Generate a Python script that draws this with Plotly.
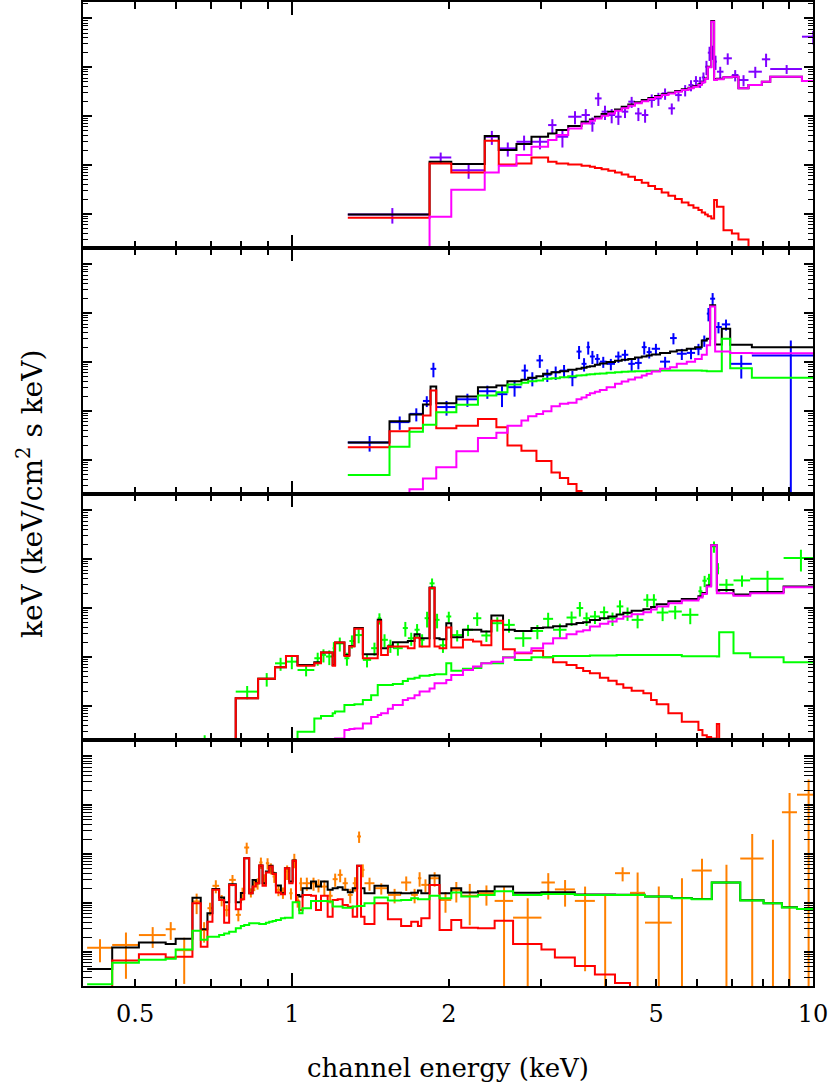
import plotly.graph_objects as go

# ---------------- Panel 1 (top) ----------------
p1_edges = [1.28, 1.837, 2.022, 2.344, 2.494, 2.697, 2.882, 3.102, 3.219, 3.390, 3.596, 3.731, 3.814,
            3.929, 4.047, 4.169, 4.294, 4.421, 4.553, 4.692, 4.831, 4.976, 5.124, 5.278, 5.437, 5.600,
            5.768, 5.896, 6.027, 6.117, 6.208, 6.282, 6.379, 6.46, 6.54, 6.733, 6.987, 7.194, 7.52,
            7.977, 8.278, 9.524, 10.5]
p1_data = [9.7e-5, 1.42e-3, 7.8e-4, 3.77e-3, 2.18e-3, 2.98e-3, 2.98e-3, 6.54e-3, 3.77e-3, 9.69e-3,
           1.05e-2, 7.08e-3, 2.30e-2, 1.23e-2, 1.05e-2, 9.69e-3, 1.23e-2, 1.97e-2, 1.13e-2, 1.05e-2,
           2.13e-2, 2.30e-2, 2.91e-2, 1.44e-2, 2.69e-2, 3.41e-2, 4.31e-2, 5.21e-2, 5.05e-2, 6.19e-2,
           0.102, 0.198, 0.208, 0.130, 8.09e-2, 0.152, 6.92e-2, 5.46e-2, 8.09e-2, 0.145, 9.17e-2, 0.421]
p1_err = [3.4e-5, 3.7e-4, 2.6e-4, 1.2e-3, 7e-4, 1.0e-3, 9e-4, 2.1e-3, 1.5e-3, 2.9e-3,
          3.4e-3, 2.3e-3, 6.9e-3, 4e-3, 3.4e-3, 3.1e-3, 3.2e-3, 5e-3, 3.4e-3, 3.2e-3,
          6.4e-3, 6.9e-3, 7.6e-3, 3.7e-3, 7e-3, 8.9e-3, 1.1e-2, 1.35e-2, 1.3e-2, 1.6e-2,
          0.033, 0.064, 0.067, 0.042, 0.021, 0.04, 0.018, 0.014, 0.021, 0.044, 0.019, 0.13]
p1_total = [9.7e-5, 1.16e-3, 1.04e-3, 3.89e-3, 2.01e-3, 2.67e-3, 3.77e-3, 4.42e-3, 5.17e-3, 6.24e-3,
            7.66e-3, 8.55e-3, 9.69e-3, 1.10e-2, 1.23e-2, 1.37e-2, 1.55e-2, 1.73e-2, 1.91e-2, 2.13e-2,
            2.34e-2, 2.57e-2, 2.78e-2, 3.01e-2, 3.25e-2, 3.52e-2, 3.80e-2, 4.11e-2, 4.45e-2, 5.05e-2,
            5.90e-2, 0.102, 0.882, 5.64e-2, 5.81e-2, 6.19e-2, 6.39e-2, 3.69e-2, 4.31e-2, 5.05e-2,
            6.39e-2, 5.21e-2]
p1_red = [8.28e-5, 1.07e-3, 7.0e-4, 3.13e-3, 1.02e-3, 1.07e-3, 1.42e-3, 1.16e-3, 1.07e-3, 1.02e-3,
          9.6e-4, 9.2e-4, 8.7e-4, 8.2e-4, 7.6e-4, 7.0e-4, 6.4e-4, 5.7e-4, 4.9e-4, 4.3e-4,
          3.7e-4, 3.2e-4, 2.73e-4, 2.34e-4, 2.0e-4, 1.71e-4, 1.50e-4, 1.33e-4, 1.19e-4, 1.06e-4,
          9.7e-5, 8.95e-5, 8.0e-5, 1.91e-4, 1.39e-4, 4.63e-5, 3.96e-5, 2.98e-5, 5e-6, 5e-6, 5e-6, 5e-6]
p1_mag = [5e-6, 8.68e-5, 3.1e-4, 7.0e-4, 9.6e-4, 1.59e-3, 2.36e-3, 3.23e-3, 4.08e-3, 5.59e-3,
          7.08e-3, 8.02e-3, 8.96e-3, 1.02e-2, 1.13e-2, 1.29e-2, 1.44e-2, 1.63e-2, 1.82e-2, 2.00e-2,
          2.23e-2, 2.45e-2, 2.69e-2, 2.91e-2, 3.15e-2, 3.41e-2, 3.69e-2, 3.99e-2, 4.31e-2, 4.89e-2,
          5.73e-2, 9.93e-2, 0.855, 5.46e-2, 5.64e-2, 6.19e-2, 6.39e-2, 3.69e-2, 4.31e-2, 5.05e-2,
          6.39e-2, 5.21e-2]

# ---------------- Panel 2 ----------------
p2_edges = [1.28, 1.539, 1.681, 1.784, 1.845, 1.892, 2.068, 2.275, 2.468, 2.592, 2.757, 2.840, 2.946,
            3.034, 3.148, 3.267, 3.390, 3.517, 3.596, 3.676, 3.731, 3.814, 3.899, 4.017, 4.169, 4.294,
            4.421, 4.553, 4.692, 4.795, 4.903, 5.087, 5.317, 5.477, 5.725, 5.939, 6.117, 6.254, 6.347,
            6.489, 6.683, 6.935, 7.632, 10.5]
p2_data = [2.27e-4, 5.9e-4, 8.7e-4, 1.6e-3, 7.27e-3, 1.2e-3, 1.73e-3, 2.53e-3, 2.2e-3, 3.06e-3,
           6.7e-3, 4.68e-3, 1.08e-2, 5.5e-3, 6.2e-3, 6.7e-3, 4.9e-3, 1.64e-2, 9.2e-3, 2.02e-2,
           1.30e-2, 1.16e-2, 1.02e-2, 9.2e-3, 1.30e-2, 1.41e-2, 9.2e-3, 9.6e-3, 2.02e-2, 1.60e-2,
           1.87e-2, 1.02e-2, 3.10e-2, 1.48e-2, 1.54e-2, 1.87e-2, 2.77e-2, 9.8e-2, 0.198, 5.22e-2,
           5.9e-2, 9.2e-3, 1.36e-2]
p2_err = [8e-5, 1.8e-4, 2.6e-4, 4e-4, 2.4e-3, 4e-4, 5.2e-4, 7.6e-4, 1.0e-3, 1.1e-3,
          2.2e-3, 1.5e-3, 3.2e-3, 1.6e-3, 1.9e-3, 2.0e-3, 1.7e-3, 4.9e-3, 2.8e-3, 6e-3,
          3.9e-3, 3e-3, 2.6e-3, 2.4e-3, 3.4e-3, 3.7e-3, 2.8e-3, 2.5e-3, 6e-3, 4.2e-3,
          4.9e-3, 2.6e-3, 8e-3, 3.8e-3, 4e-3, 4.9e-3, 7.2e-3, 0.03, 0.06, 0.0136,
          0.015, 4.6e-3, 0.014]
p2_total = [2.27e-4, 6.13e-4, 8.41e-4, 1.35e-3, 3.16e-3, 1.44e-3, 1.97e-3, 3.06e-3, 3.31e-3, 4.06e-3,
            4.32e-3, 4.75e-3, 5.14e-3, 5.74e-3, 6.21e-3, 6.51e-3, 6.93e-3, 7.27e-3, 7.62e-3, 7.99e-3,
            8.24e-3, 8.79e-3, 9.32e-3, 1.00e-2, 1.06e-2, 1.11e-2, 1.16e-2, 1.24e-2, 1.30e-2, 1.36e-2,
            1.43e-2, 1.54e-2, 1.64e-2, 1.75e-2, 1.87e-2, 2.02e-2, 2.77e-2, 3.00e-2, 0.145, 2.29e-2,
            4.81e-2, 2.25e-2, 2.02e-2]
p2_red = [1.80e-4, 3.82e-4, 4.41e-4, 8.02e-4, 2.61e-3, 4.41e-4, 5.0e-4, 6.85e-4, 4.62e-4, 1.95e-4,
          1.53e-4, 1.53e-4, 9.5e-5, 9.5e-5, 5.5e-5, 4.22e-5, 3.2e-5, 2.3e-5, 5e-6, 5e-6,
          5e-6, 5e-6, 5e-6, 5e-6, 5e-6, 5e-6, 5e-6, 5e-6, 5e-6, 5e-6,
          5e-6, 5e-6, 5e-6, 5e-6, 5e-6, 5e-6, 5e-6, 5e-6, 5e-6, 5e-6,
          5e-6, 5e-6, 5e-6]
p2_green = [4.86e-5, 1.85e-4, 3.76e-4, 5.24e-4, 5.24e-4, 9.4e-4, 1.33e-3, 2.06e-3, 2.41e-3, 3.47e-3,
            3.75e-3, 4.06e-3, 4.19e-3, 4.53e-3, 4.68e-3, 4.9e-3, 5.14e-3, 5.3e-3, 5.38e-3, 5.56e-3,
            5.65e-3, 5.74e-3, 5.83e-3, 6.02e-3, 6.21e-3, 6.31e-3, 6.41e-3, 6.51e-3, 6.51e-3, 6.61e-3,
            6.61e-3, 6.72e-3, 6.72e-3, 6.72e-3, 6.72e-3, 6.72e-3, 6.61e-3, 6.51e-3, 6.51e-3, 6.51e-3,
            3.0e-2, 7.5e-3, 4.75e-3]
p2_mag = [5e-6, 5e-6, 2.5e-5, 4.15e-5, 4.15e-5, 7.0e-5, 1.49e-4, 2.79e-4, 3.57e-4, 5.0e-4,
          6.4e-4, 7.8e-4, 8.7e-4, 9.84e-4, 1.25e-3, 1.4e-3, 1.47e-3, 1.73e-3, 1.89e-3, 2.12e-3,
          2.3e-3, 2.48e-3, 2.69e-3, 3.06e-3, 3.6e-3, 3.99e-3, 4.4e-3, 4.83e-3, 5.3e-3, 5.74e-3,
          6.4e-3, 7.27e-3, 7.87e-3, 9.2e-3, 1.02e-2, 1.16e-2, 1.41e-2, 2.21e-2, 0.137, 1.64e-2,
          1.64e-2, 1.54e-2, 1.51e-2]

# ---------------- Panel 3 ----------------
p3_edges = [0.64, 0.72, 0.780, 0.861, 0.928, 0.974, 1.025, 1.104, 1.137, 1.162, 1.197, 1.210, 1.261,
            1.289, 1.318, 1.368, 1.419, 1.461, 1.483, 1.528, 1.562, 1.632, 1.669, 1.719, 1.758, 1.797,
            1.837, 1.878, 1.920, 1.978, 2.022, 2.129, 2.226, 2.309, 2.414, 2.542, 2.677, 2.882, 3.034,
            3.171, 3.365, 3.517, 3.622, 3.731, 3.899, 4.047, 4.199, 4.325, 4.487, 4.726, 4.889, 5.012,
            5.278, 5.600, 6.027, 6.135, 6.254, 6.375, 6.538, 6.606, 7.038, 7.576, 8.782, 10.18]
p3_data = [1e-7, 1e-7,
           1.95e-4, 3.57e-4, 7.4e-4, 8.0e-4, 5.4e-4, 9.4e-4, 1.1e-3, 1.02e-3, 1.51e-3, 1.89e-3,
           9.4e-4, 2.12e-3, 2.8e-3, 8.7e-4, 1.51e-3, 6.2e-3, 2.24e-3, 1.73e-3, 1.51e-3, 3.9e-3,
           2.41e-3, 3.6e-3, 2.24e-3, 6.2e-3, 3.2e-2, 5.74e-3, 1.73e-3, 6.72e-3, 2.8e-3, 3.6e-3,
           6.2e-3, 2.75e-3, 4.9e-3, 4.53e-3, 2.41e-3, 3.4e-3, 6.02e-3, 3.6e-3, 6.4e-3, 1.0e-2,
           6.2e-3, 6.72e-3, 8.24e-3, 6.2e-3, 1.08e-2, 7.87e-3, 5.74e-3, 1.48e-2, 1.48e-2, 8.1e-3,
           8.5e-3, 7.27e-3, 2.21e-2, 3.62e-2, 3.98e-2, 0.183, 6.6e-2, 3.0e-2, 3.68e-2, 3.98e-2, 0.106]
p3_err = [2.5e-5, 0.0,
          5.9e-5, 1.1e-4, 2.2e-4, 2.4e-4, 1.4e-4, 2.8e-4, 3.3e-4, 3.4e-4, 5e-4, 6e-4,
          2.8e-4, 6.4e-4, 9e-4, 2.6e-4, 4.5e-4, 1.6e-3, 6.7e-4, 5.2e-4, 4.5e-4, 1.3e-3,
          7.2e-4, 1.1e-3, 6.7e-4, 2.2e-3, 8.3e-3, 1.9e-3, 5.2e-4, 1.7e-3, 7.3e-4, 9.4e-4,
          1.9e-3, 7.2e-4, 1.6e-3, 1.4e-3, 8e-4, 1.1e-3, 2e-3, 1.2e-3, 2.1e-3, 3.3e-3,
          1.9e-3, 2e-3, 2.5e-3, 1.9e-3, 3.6e-3, 2.4e-3, 1.9e-3, 4.4e-3, 4.4e-3, 2.7e-3,
          2.6e-3, 2.6e-3, 5.7e-3, 9.4e-3, 1.03e-2, 0.047, 0.017, 9e-3, 9.6e-3, 0.018, 0.05]
p3_total = [5e-6, 5e-6,
            1.42e-4, 3.57e-4, 6.13e-4, 1.05e-3, 6.85e-4, 7.8e-4, 1.23e-3, 1.23e-3, 6.85e-4, 1.97e-3,
            1.10e-3, 1.68e-3, 3.9e-3, 1.13e-3, 1.13e-3, 5.74e-3, 1.51e-3, 1.64e-3, 2.0e-3, 2.0e-3,
            2.12e-3, 2.9e-3, 2.41e-3, 2.41e-3, 2.64e-2, 2.41e-3, 2.3e-3, 4.9e-3, 2.53e-3, 3.6e-3,
            3.6e-3, 3.31e-3, 7.04e-3, 3.6e-3, 3.4e-3, 3.9e-3, 3.99e-3, 4.24e-3, 4.64e-3, 4.95e-3,
            5.1e-3, 5.72e-3, 6.2e-3, 6.7e-3, 7.4e-3, 8.05e-3, 8.8e-3, 9.5e-3, 1.055e-2, 1.2e-2,
            1.38e-2, 1.54e-2, 1.74e-2, 2.04e-2, 2.88e-2, 0.193, 2.29e-2, 2.34e-2, 1.9e-2, 2.12e-2, 2.76e-2]
p3_red = [5e-6, 5e-6,
          1.42e-4, 3.57e-4, 6.13e-4, 1.05e-3, 6.63e-4, 7.41e-4, 1.23e-3, 1.23e-3, 6.63e-4, 1.97e-3,
          1.05e-3, 1.63e-3, 3.75e-3, 9.39e-4, 9.39e-4, 5.3e-3, 1.10e-3, 1.63e-3, 1.63e-3, 1.63e-3,
          1.51e-3, 2.48e-3, 1.63e-3, 1.63e-3, 2.56e-2, 1.63e-3, 1.51e-3, 4.0e-3, 1.55e-3, 2.24e-3,
          2.06e-3, 1.73e-3, 5.47e-3, 1.44e-3, 1.19e-3, 1.33e-3, 9.84e-4, 7.8e-4, 6.85e-4, 5.9e-4,
          5.16e-4, 4.62e-4, 3.76e-4, 3.27e-4, 2.75e-4, 2.34e-4, 2.04e-4, 1.8e-4, 1.31e-4, 1.07e-4,
          7.0e-5, 4.7e-5, 3.2e-5, 2.5e-5, 2.3e-5, 2.14e-5, 4.22e-5, 5e-6, 5e-6, 5e-6, 5e-6]
p3_green = [5e-6, 5e-6,
            5e-6, 5e-6, 5e-6, 5e-6, 2.94e-5, 5.5e-5, 6.2e-5, 6.2e-5, 7.0e-5, 7.6e-5,
            1.04e-4, 1.04e-4, 1.08e-4, 1.31e-4, 1.65e-4, 2.66e-4, 2.66e-4, 2.66e-4, 2.79e-4, 3.2e-4,
            3.57e-4, 3.76e-4, 4.1e-4, 4.1e-4, 4.27e-4, 4.41e-4, 4.41e-4, 7.4e-4, 5.24e-4, 5.7e-4,
            5.9e-4, 7.4e-4, 7.4e-4, 9.84e-4, 8.7e-4, 9.84e-4, 9.84e-4, 1.05e-3, 1.05e-3, 1.05e-3,
            1.05e-3, 1.07e-3, 1.07e-3, 1.07e-3, 1.10e-3, 1.10e-3, 1.10e-3, 1.10e-3, 1.10e-3, 1.09e-3,
            1.09e-3, 1.03e-3, 1.03e-3, 1.03e-3, 1.03e-3, 1.03e-3, 1.02e-3, 3.2e-3, 1.19e-3, 9.84e-4, 7.8e-4]
p3_mag = [5e-6, 5e-6,
          5e-6, 5e-6, 5e-6, 5e-6, 5e-6, 5e-6, 5e-6, 5e-6, 5e-6, 2.14e-5,
          3.2e-5, 3.35e-5, 3.45e-5, 4.35e-5, 5.9e-5, 6.5e-5, 7.0e-5, 8.7e-5, 1.04e-4, 1.31e-4,
          1.42e-4, 1.65e-4, 1.95e-4, 1.95e-4, 2.27e-4, 2.88e-4, 2.88e-4, 3.37e-4, 4.27e-4, 5.4e-4,
          6.4e-4, 7.4e-4, 8.0e-4, 9.7e-4, 1.23e-3, 1.51e-3, 1.89e-3, 2.41e-3, 2.9e-3, 3.31e-3,
          3.53e-3, 4.19e-3, 4.75e-3, 5.3e-3, 6.02e-3, 6.72e-3, 7.5e-3, 8.24e-3, 9.32e-3, 1.08e-2,
          1.26e-2, 1.43e-2, 1.64e-2, 1.93e-2, 2.77e-2, 0.192, 2.02e-2, 2.02e-2, 1.78e-2, 2.02e-2, 2.68e-2]

# ---------------- Panel 4 (bottom) ----------------
p4_edges = [0.4045, 0.4519, 0.5085, 0.5724, 0.5982, 0.6442, 0.6683, 0.6884, 0.7038, 0.7249, 0.7411,
            0.7577, 0.7803, 0.7979, 0.8098, 0.8278, 0.8403, 0.8528, 0.8654, 0.8782, 0.8913, 0.9045,
            0.9180, 0.9316, 0.9524, 0.9695, 0.9883, 1.003, 1.018, 1.033, 1.048, 1.088, 1.112, 1.137,
            1.171, 1.197, 1.224, 1.251, 1.280, 1.308, 1.334, 1.357, 1.378, 1.440, 1.528, 1.620, 1.694,
            1.745, 1.771, 1.837, 1.920, 2.022, 2.113, 2.275, 2.449, 2.657, 3.012, 3.196, 3.491, 3.814,
            4.169, 4.454, 4.760, 5.357, 5.852, 6.394, 7.250, 8.039, 8.717, 9.316, 10.3]
p4_data = [1.21e-4, 1.38e-4, 2.2e-4, 2.9e-4, 1.08e-4, 1.07e-3, 2.79e-4, 7.8e-4, 2.24e-3, 1.15e-3,
           7.18e-4, 2.96e-3, 5.7e-4, 1.58e-3, 1.36e-2, 1.64e-3, 2.34e-3, 2.53e-3, 6.72e-3, 3.06e-3,
           6.51e-3, 5.14e-3, 3.47e-3, 1.85e-3, 1.64e-3, 4.4e-3, 1.58e-3, 7.62e-3, 1.15e-3, 2.53e-3,
           2.53e-3, 2.53e-3, 2.34e-3, 2.16e-3, 1.4e-3, 3.06e-3, 3.75e-3, 2.53e-3, 1.46e-3, 2.53e-3,
           2.29e-2, 4.75e-3, 2.53e-3, 2.0e-3, 1.46e-3, 2.62e-3, 1.46e-3, 3.2e-3, 2.34e-3, 3.2e-3,
           1.15e-3, 1.85e-3, 1.4e-3,
           1.58e-3, 1.1e-3, 5.0e-4, 2.62e-3, 1.89e-3, 1.1e-3, 1e-6, 4.06e-3, 1.61e-3, 3.95e-4,
           1e-6, 4.6e-3, 1e-6, 8.1e-3, 1e-6, 7.17e-2, 0.164]
p4_err = [6e-5, 1.1e-4, 1.0e-4, 1.15e-4, 8.6e-5, 4.8e-4, 1.25e-4, 2.3e-4, 6.7e-4, 3e-4,
          1.9e-4, 7.7e-4, 1.5e-4, 4.7e-4, 3.5e-3, 3.5e-4, 6e-4, 6.6e-4, 1.75e-3, 8e-4,
          1.7e-3, 1.3e-3, 9e-4, 4.8e-4, 4.3e-4, 1.45e-3, 4.1e-4, 2.5e-3, 3.5e-4, 7.6e-4,
          7.6e-4, 7.6e-4, 7e-4, 7.1e-4, 4.2e-4, 9.2e-4, 1.1e-3, 7.6e-4, 4.8e-4, 8.3e-4,
          6e-3, 1.4e-3, 7.6e-4, 5.2e-4, 4.8e-4, 8.6e-4, 4.8e-4, 1.05e-3, 7e-4, 1.05e-3,
          5.2e-4, 8.3e-4, 1.05e-3,
          7e-4, 1.1e-3, 7.5e-4, 1.45e-3, 1.05e-3, 1.06e-3, 1.46e-3, 1.3e-3, 2.58e-3, 1.77e-3,
          3.2e-3, 3.4e-3, 6.02e-3, 1.75e-2, 1.96e-2, 0.105, 0.17]
p4_total = [4.42e-5, 1.22e-4, 1.55e-4, 1.45e-4, 1.85e-4, 1.27e-3, 2.9e-4, 6.13e-4, 1.93e-3, 1.29e-3,
            1.03e-3, 2.41e-3, 1.03e-3, 1.6e-3, 8.24e-3, 1.58e-3, 2.96e-3, 2.53e-3, 5.83e-3, 2.53e-3,
            4.4e-3, 5.74e-3, 4.06e-3, 2.26e-3, 1.58e-3, 5.14e-3, 2.75e-3, 7.39e-3, 1.46e-3, 1.35e-3,
            2.0e-3, 2.75e-3, 2.16e-3, 2.75e-3, 1.85e-3, 2.0e-3, 2.09e-3, 1.85e-3, 1.66e-3, 2.0e-3,
            5.74e-3, 2.0e-3, 1.58e-3, 2.24e-3, 1.61e-3, 1.58e-3, 1.61e-3, 1.79e-3, 1.58e-3, 3.65e-3,
            1.58e-3, 2.0e-3, 1.64e-3,
            1.73e-3, 2.16e-3, 1.61e-3, 1.66e-3, 1.66e-3, 1.49e-3, 1.49e-3, 1.47e-3, 1.47e-3, 1.36e-3,
            1.26e-3, 1.2e-3, 2.63e-3, 1.13e-3, 9.9e-4, 8.15e-4, 7.55e-4]
p4_red = [5e-6, 6.6e-5, 8.9e-5, 7.6e-5, 7.92e-5, 9.84e-4, 1.27e-4, 4.1e-4, 1.85e-3, 1.15e-3,
          3.95e-4, 2.34e-3, 7.4e-4, 1.19e-3, 8.24e-3, 1.58e-3, 2.16e-3, 2.53e-3, 5.83e-3, 2.24e-3,
          4.19e-3, 5.56e-3, 3.93e-3, 1.64e-3, 1.51e-3, 5.14e-3, 2.53e-3, 7.27e-3, 1.07e-3, 7.18e-4,
          1.46e-3, 1.4e-3, 7.18e-4, 1.4e-3, 5.24e-4, 1.15e-3, 1.19e-3, 9.1e-4, 8.4e-4, 5.24e-4,
          5.74e-3, 5.24e-4, 3.7e-4, 9.84e-4, 4.62e-4, 3.37e-4, 4.1e-4, 3.37e-4, 4.85e-4, 2.34e-3,
          2.79e-4, 4.48e-4, 3.1e-4,
          3.05e-4, 4.34e-4, 1.45e-4, 1.12e-4, 7.6e-5, 5.1e-5, 3.45e-5, 2.3e-5, 5e-6, 5e-6,
          5e-6, 5e-6, 5e-6, 5e-6, 5e-6, 5e-6, 5e-6]
p4_green = [2.17e-5, 5.95e-5, 6.9e-5, 7.2e-5, 1.12e-4, 2.7e-4, 1.77e-4, 2.04e-4, 2.04e-4, 2.2e-4,
            2.38e-4, 2.58e-4, 3.02e-4, 3.37e-4, 3.52e-4, 3.82e-4, 3.82e-4, 3.82e-4, 3.7e-4, 3.7e-4,
            3.95e-4, 4.1e-4, 4.27e-4, 4.48e-4, 4.85e-4, 5.0e-4, 5.0e-4, 1.03e-3, 1.03e-3, 6.13e-4,
            7.8e-4, 1.1e-3, 1.1e-3, 1.1e-3, 1.07e-3, 8.41e-4, 8.41e-4, 8.0e-4, 8.0e-4, 8.41e-4,
            8.7e-4, 8.7e-4, 9.84e-4, 1.29e-3, 1.12e-3, 1.15e-3, 1.25e-3, 1.19e-3, 1.19e-3, 1.4e-3,
            1.25e-3, 1.64e-3, 1.35e-3,
            1.46e-3, 1.73e-3, 1.46e-3, 1.53e-3, 1.53e-3, 1.46e-3, 1.46e-3, 1.46e-3, 1.46e-3, 1.35e-3,
            1.25e-3, 1.19e-3, 2.62e-3, 1.12e-3, 9.84e-4, 8.1e-4, 7.5e-4]

# axis tick values / labels
x_label_vals = [0.5, 1, 2, 5, 10]
x_label_text = ["0.5", "1", "2", "5", "10"]
x_major = [1, 10]
x_minor = [0.5, 0.6, 0.7, 0.8, 0.9, 2, 3, 4, 5, 6, 7, 8, 9]
y_major = [1e-4, 1e-3, 1e-2, 1e-1, 1]
y_minor = [k * 10.0 ** d for d in range(-5, 1) for k in range(2, 10)]

BLACK, RED, MAG, GREEN = "#000000", "#ff0000", "#ff00ff", "#00ff00"
BLUE, VIOLET, ORANGE = "#0000ff", "#8000ff", "#ff8000"
FONT = "DejaVu Serif"

panels = [
    dict(edges=p1_edges, data=p1_data, err=p1_err, dcol=VIOLET,
         models=[(p1_total, BLACK), (p1_red, RED), (p1_mag, MAG)]),
    dict(edges=p2_edges, data=p2_data, err=p2_err, dcol=BLUE,
         models=[(p2_total, BLACK), (p2_red, RED), (p2_green, GREEN), (p2_mag, MAG)]),
    dict(edges=p3_edges, data=p3_data, err=p3_err, dcol=GREEN,
         models=[(p3_total, BLACK), (p3_red, RED), (p3_green, GREEN), (p3_mag, MAG)]),
    dict(edges=p4_edges, data=p4_data, err=p4_err, dcol=ORANGE,
         models=[(p4_total, BLACK), (p4_red, RED), (p4_green, GREEN)]),
]

fig = go.Figure()
for i, p in enumerate(panels, start=1):
    xa, ya = f"x{i}", f"y{i}"
    e = p["edges"]
    lo, hi = e[:-1], e[1:]
    cx = [(a + b) / 2 for a, b in zip(lo, hi)]
    fig.add_trace(go.Scatter(
        x=cx, y=p["data"], mode="markers", xaxis=xa, yaxis=ya,
        marker=dict(size=1, color=p["dcol"]), showlegend=False, hoverinfo="skip",
        error_x=dict(type="data", symmetric=False,
                     array=[b - c for b, c in zip(hi, cx)],
                     arrayminus=[c - a for a, c in zip(lo, cx)],
                     color=p["dcol"], thickness=2, width=0),
        error_y=dict(type="data", array=p["err"], color=p["dcol"], thickness=2, width=0),
    ))
    for vals, col in p["models"]:
        fig.add_trace(go.Scatter(
            x=e, y=list(vals) + [vals[-1]], mode="lines", line_shape="hv",
            line=dict(color=col, width=2), xaxis=xa, yaxis=ya,
            showlegend=False, hoverinfo="skip"))

# invisible trace for the label axis
fig.add_trace(go.Scatter(x=[1], y=[1e-3], xaxis="x5", yaxis="y4", mode="markers",
                         marker=dict(size=1, opacity=0), showlegend=False, hoverinfo="skip"))

XR = [-0.401, 1.0]
YR = [-4.70, 0.334]
layout = dict(
    width=830, height=1086, plot_bgcolor="white", paper_bgcolor="white",
    margin=dict(l=83, r=17, t=2, b=100, autoexpand=False),
    font=dict(family=FONT, color="black"),
)
doms = [[0.75, 1.0], [0.5, 0.75], [0.25, 0.5], [0.0, 0.25]]
for i in range(1, 5):
    sfx = "" if i == 1 else str(i)
    layout["xaxis" + sfx] = dict(
        type="log", range=XR, anchor=f"y{i}", domain=[0, 1],
        tickmode="array", tickvals=x_major, ticks="inside", ticklen=13, tickwidth=1.5,
        tickcolor="black", showticklabels=False, showline=True, linewidth=2,
        linecolor="black", mirror="allticks", showgrid=False, zeroline=False,
        minor=dict(tickmode="array", tickvals=x_minor, ticks="inside", ticklen=7,
                   tickwidth=1.5, tickcolor="black", showgrid=False),
    )
    layout["yaxis" + sfx] = dict(
        type="log", range=YR, anchor=f"x{i}", domain=doms[i - 1],
        tickmode="array", tickvals=y_major, ticks="inside", ticklen=9, tickwidth=1.5,
        tickcolor="black", showticklabels=False, showline=True, linewidth=2,
        linecolor="black", mirror="allticks", showgrid=False, zeroline=False,
        minor=dict(tickmode="array", tickvals=y_minor, ticks="inside", ticklen=5,
                   tickwidth=1, tickcolor="black", showgrid=False),
    )
layout["xaxis5"] = dict(
    type="log", range=XR, overlaying="x4", anchor="y4", side="bottom",
    tickmode="array", tickvals=x_label_vals, ticktext=x_label_text, ticks="",
    showline=False, showgrid=False, zeroline=False, ticklabelstandoff=11,
    tickfont=dict(family=FONT, size=24, color="black"),
)
fig.update_layout(**layout)

fig.add_annotation(text="channel energy (keV)", xref="paper", yref="paper",
                   x=0.5, y=-0.0833, xanchor="center", yanchor="middle", showarrow=False,
                   font=dict(family=FONT, size=26, color="black"))
fig.add_annotation(text="keV (keV/cm<sup>2</sup> s keV)", xref="paper", yref="paper",
                   x=-0.0726, y=0.5, xanchor="center", yanchor="middle", textangle=-90,
                   showarrow=False, font=dict(family=FONT, size=28, color="black"))

fig.write_html("out.html", config={"displayModeBar": False},
               post_script="document.body.style.margin='0px';document.body.style.overflow='hidden';")
